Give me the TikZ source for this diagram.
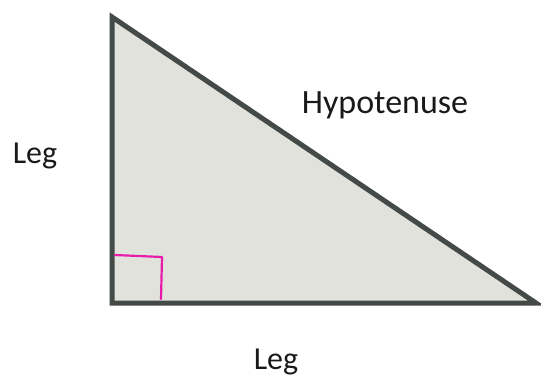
\documentclass[tikz,border=0pt]{standalone}
\usepackage{fontspec}
\setmainfont{Carlito}
\usepackage{tikz}
\usetikzlibrary{positioning}
\definecolor{edgegray}{RGB}{68,74,72}
\definecolor{fillgray}{RGB}{226,226,221}
\definecolor{markpink}{RGB}{232,28,170}

\begin{document}
\begin{tikzpicture}[
    x=1pt, y=-1pt,
    every node/.style={font=\fontsize{32}{38}\selectfont, text=black!90, inner sep=0pt},
    tri/.style={draw=edgegray, line width=5pt, fill=fillgray, line join=miter},
    rightmark/.style={draw=markpink, line width=2.2pt, line cap=round, line join=round},
]
    \useasboundingbox (0,0) rectangle (541,376);

    % Corners of the triangle
    \coordinate (top) at (112,17);
    \coordinate (corner) at (112,303);
    \coordinate (tip) at (536,303);

    \draw[tri] (top) -- (corner) -- (tip) -- cycle;

    % Right angle mark
    \coordinate (m1) at (115,255);
    \coordinate (m2) at (162,257);
    \coordinate (m3) at (161,299);
    \draw[rightmark] (m1) -- (m2) -- (m3);

    % Labels
    \node[anchor=base] (legleft) at (35,163) {Leg};
    \node[anchor=base, font=\fontsize{34}{40}\selectfont] (hyp) at (385,113) {Hypotenuse};
    \node[anchor=base] (legbottom) at (276,369) {Leg};
\end{tikzpicture}
\end{document}
